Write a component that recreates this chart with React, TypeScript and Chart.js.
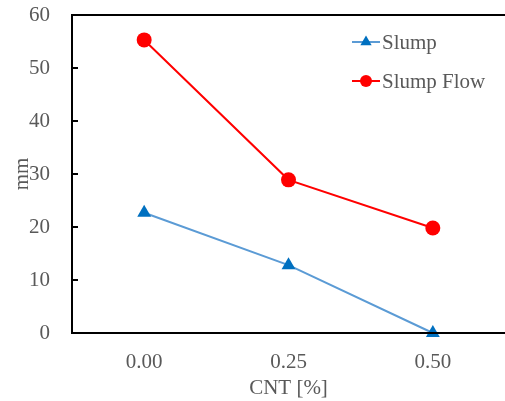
import React, { useEffect, useRef } from "react";
import { Chart, registerables } from "chart.js";

Chart.register(...registerables);

const categories = ["0.00", "0.25", "0.50"];
const slump = [22.7, 12.8, 0];
const slumpFlow = [55.3, 28.9, 19.8];
const yTicks = [0, 10, 20, 30, 40, 50, 60];

const FONT = "'Liberation Serif', 'Times New Roman', serif";
const GRAY = "#595959";
const FS = 21;

const framePlugin = {
  id: "frame",
  afterDatasetsDraw(chart: any) {
    const { ctx, chartArea } = chart;
    const y = chart.scales.y;
    ctx.save();
    ctx.strokeStyle = "#000";
    ctx.lineWidth = 2;
    ctx.beginPath();
    ctx.moveTo(chartArea.left, chartArea.top);
    ctx.lineTo(chartArea.right + 2, chartArea.top);
    ctx.moveTo(chartArea.left, chartArea.top - 1);
    ctx.lineTo(chartArea.left, chartArea.bottom + 1);
    ctx.moveTo(chartArea.left, chartArea.bottom);
    ctx.lineTo(chartArea.right + 2, chartArea.bottom);
    ctx.stroke();
    ctx.beginPath();
    for (const v of yTicks) {
      const py = Math.round(y.getPixelForValue(v));
      ctx.moveTo(chartArea.left, py);
      ctx.lineTo(chartArea.left + 6, py);
    }
    ctx.stroke();
    ctx.restore();
  },
  afterDraw(chart: any) {
    const { ctx } = chart;
    const ds = chart.data.datasets;
    const rows = [
      { y: 42, d: ds[0] },
      { y: 81, d: ds[1] },
    ];
    ctx.save();
    for (const r of rows) {
      ctx.strokeStyle = r.d.borderColor;
      ctx.lineWidth = 2;
      ctx.beginPath();
      ctx.moveTo(352, r.y);
      ctx.lineTo(380, r.y);
      ctx.stroke();
      ctx.fillStyle = r.d.pointBackgroundColor;
      const cx = 366;
      if (r.d.pointStyle === "triangle") {
        const rad = 6.5;
        ctx.beginPath();
        ctx.moveTo(cx, r.y - rad);
        ctx.lineTo(cx + rad * 0.866, r.y + rad / 2);
        ctx.lineTo(cx - rad * 0.866, r.y + rad / 2);
        ctx.closePath();
        ctx.fill();
      } else {
        ctx.beginPath();
        ctx.arc(cx, r.y, 6, 0, Math.PI * 2);
        ctx.fill();
      }
      ctx.fillStyle = GRAY;
      ctx.font = `${FS}px ${FONT}`;
      ctx.textBaseline = "middle";
      ctx.textAlign = "left";
      ctx.fillText(r.d.label, 382, r.y + 1);
    }
    ctx.restore();
  },
};

const zeroPad = (s: any) => {
  s.paddingTop = 0;
  s.paddingBottom = 0;
  s.paddingLeft = 0;
  s.paddingRight = 0;
};

export default function App() {
  const ref = useRef<HTMLCanvasElement>(null);
  useEffect(() => {
    document.body.style.margin = "0";
    document.body.style.overflow = "hidden";
    const chart = new Chart(ref.current!, {
      type: "line",
      data: {
        labels: categories,
        datasets: [
          {
            label: "Slump",
            data: slump,
            borderColor: "#5B9BD5",
            backgroundColor: "#0070C0",
            pointBackgroundColor: "#0070C0",
            pointBorderColor: "#0070C0",
            pointStyle: "triangle",
            pointRadius: 8,
            pointBorderWidth: 0,
            borderWidth: 2,
            clip: false as any,
          },
          {
            label: "Slump Flow",
            data: slumpFlow,
            borderColor: "#FF0000",
            backgroundColor: "#FF0000",
            pointBackgroundColor: "#FF0000",
            pointBorderColor: "#FF0000",
            pointStyle: "circle",
            pointRadius: 7.5,
            pointBorderWidth: 0,
            borderWidth: 2,
            clip: false as any,
          },
        ],
      },
      plugins: [framePlugin],
      options: {
        animation: false,
        responsive: false,
        layout: {
          autoPadding: false,
          padding: { top: 15, right: -5, left: 0, bottom: 0 },
        },
        plugins: {
          legend: { display: false },
          tooltip: { enabled: false },
        },
        scales: {
          x: {
            type: "category",
            offset: true,
            grid: { display: false, drawTicks: false },
            border: { display: false },
            ticks: {
              color: GRAY,
              font: { family: FONT, size: FS },
              padding: 17,
              maxRotation: 0,
            },
            title: {
              display: true,
              text: "CNT [%]",
              color: GRAY,
              font: { family: FONT, size: FS },
              padding: { top: 0, bottom: 0 },
            },
            afterFit: (s: any) => {
              s.height = 68;
              zeroPad(s);
            },
          },
          y: {
            min: 0,
            max: 60,
            grid: { display: false, drawTicks: false },
            border: { display: false },
            ticks: {
              stepSize: 10,
              color: GRAY,
              font: { family: FONT, size: FS },
              padding: 22,
            },
            title: {
              display: true,
              text: "mm",
              color: GRAY,
              font: { family: FONT, size: FS },
              padding: { top: 10, bottom: 0 },
            },
            afterFit: (s: any) => {
              s.width = 72;
              zeroPad(s);
            },
          },
        },
      },
    });
    return () => chart.destroy();
  }, []);
  return (
    <div style={{ width: 505, height: 401 }}>
      <canvas ref={ref} width={505} height={401} style={{ display: "block" }} />
    </div>
  );
}
